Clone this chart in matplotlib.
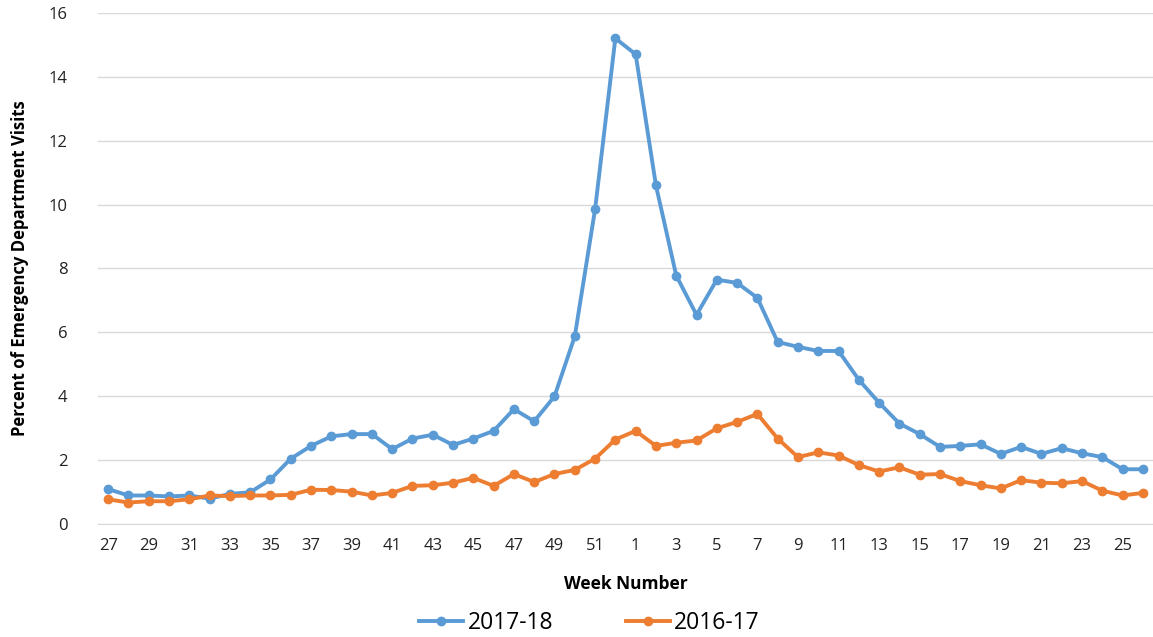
import numpy as np
import matplotlib.pyplot as plt

weeks = [str(w) for w in list(range(27, 53)) + list(range(1, 27))]

season_2017_18 = [1.1, 0.9, 0.9, 0.87, 0.9, 0.8, 0.95, 1.0, 1.4, 2.05,
                  2.45, 2.75, 2.82, 2.82, 2.35, 2.68, 2.8, 2.48, 2.68, 2.92,
                  3.6, 3.22, 4.0, 5.88, 9.85, 15.2, 14.7, 10.6, 7.78, 6.55,
                  7.65, 7.55, 7.08, 5.7, 5.55, 5.42, 5.42, 4.52, 3.8, 3.15,
                  2.82, 2.42, 2.45, 2.5, 2.2, 2.42, 2.2, 2.38, 2.22, 2.1,
                  1.72, 1.72]

season_2016_17 = [0.78, 0.68, 0.72, 0.72, 0.78, 0.9, 0.88, 0.9, 0.9, 0.92,
                  1.08, 1.07, 1.02, 0.9, 0.98, 1.2, 1.22, 1.3, 1.45, 1.2,
                  1.57, 1.32, 1.57, 1.7, 2.05, 2.65, 2.92, 2.45, 2.55, 2.62,
                  3.0, 3.2, 3.45, 2.68, 2.1, 2.25, 2.15, 1.85, 1.65, 1.78,
                  1.55, 1.57, 1.35, 1.22, 1.12, 1.38, 1.3, 1.28, 1.35, 1.05,
                  0.9, 0.98]

plt.rcParams['font.family'] = ['Open Sans', 'DejaVu Sans']

fig = plt.figure(figsize=(11.53, 6.37), dpi=100)
ax = fig.add_axes([0.085, 0.177, 0.915, 0.803])

x = np.arange(len(weeks))
ax.plot(x, season_2017_18, color='#5B9BD5', lw=2.8, marker='o', ms=6, label='2017-18')
ax.plot(x, season_2016_17, color='#ED7D31', lw=2.8, marker='o', ms=6, label='2016-17')

ax.set_xlim(-0.5, len(weeks) - 0.5)
ax.set_ylim(0, 16)
ax.set_yticks(range(0, 17, 2))
ax.set_xticks(x[::2])
ax.set_xticklabels(weeks[::2])
ax.grid(axis='y', color='#D9D9D9', lw=1)
ax.set_axisbelow(True)
for s in ['top', 'right', 'left']:
    ax.spines[s].set_visible(False)
ax.spines['bottom'].set_color('#D9D9D9')
ax.tick_params(axis='both', length=0, labelsize=12, colors='#222222')
ax.tick_params(axis='x', pad=10)
ax.tick_params(axis='y', pad=22)

ax.set_xlabel('Week Number', fontsize=12.5, fontweight='bold', labelpad=15)
ax.set_ylabel('Percent of Emergency Department Visits', fontsize=12,
              fontweight='bold', labelpad=14)

ax.legend(loc='center', bbox_to_anchor=(0.466, -0.194), ncol=2, frameon=False,
          fontsize=16.5, handlelength=1.9, handletextpad=0.2, columnspacing=3.2)

fig.savefig('out.png', dpi=100)
